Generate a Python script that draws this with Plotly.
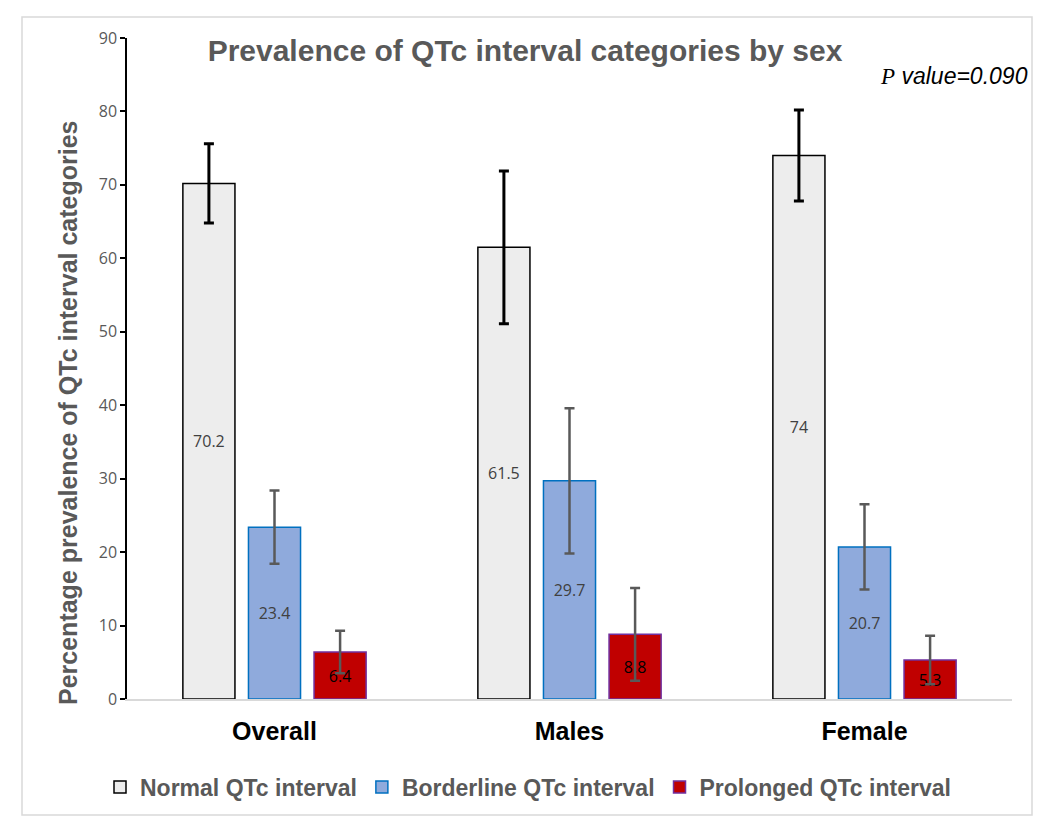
import plotly.graph_objects as go

categories = ["Overall", "Males", "Female"]
series_names = ["Normal QTc interval", "Borderline QTc interval", "Prolonged QTc interval"]
normal_vals = [70.2, 61.5, 74]
borderline_vals = [23.4, 29.7, 20.7]
prolonged_vals = [6.4, 8.8, 5.3]
normal_err = [5.4, 10.4, 6.2]
borderline_err = [5.0, 9.9, 5.8]
prolonged_err = [2.9, 6.3, 3.3]
y_ticks = [0, 10, 20, 30, 40, 50, 60, 70, 80, 90]

# pixel layout helpers
L, R, T, B = 127, 1012, 38, 699
W, H = R - L, B - T
def px(x):
    return (x - L) / W
def py(y):
    return (B - y) / H

fills = ["#EDEDED", "#8FAADC", "#C00000"]
lines = ["#000000", "#0070C0", "#7030A0"]
err_cols = ["#000000", "#595959", "#595959"]
err_thick = [3, 2.5, 2.5]
text_cols = ["#404040", "#404040", "#000000"]
vals = [normal_vals, borderline_vals, prolonged_vals]
errs = [normal_err, borderline_err, prolonged_err]

fig = go.Figure()
for i in range(3):
    fig.add_trace(go.Bar(
        name=series_names[i],
        x=categories,
        y=vals[i],
        text=[f"{v:g}" for v in vals[i]],
        textposition="inside",
        insidetextanchor="middle",
        textangle=0,
        constraintext="none",
        textfont=dict(family="Open Sans", size=16, color=text_cols[i]),
        marker=dict(color=fills[i], line=dict(color=lines[i], width=1.5)),
        error_y=dict(type="data", array=errs[i], visible=True,
                     color=err_cols[i], thickness=err_thick[i], width=5),
    ))

fig.update_layout(
    width=1050, height=835,
    margin=dict(l=L, r=1050 - R, t=T, b=835 - B, autoexpand=False),
    paper_bgcolor="white", plot_bgcolor="white",
    barmode="group", bargap=0.333, bargroupgap=0.206,
    title=dict(text="<b>Prevalence of QTc interval categories by sex</b>",
               x=525 / 1050, xanchor="center", xref="container", y=1 - 50 / 835, yanchor="middle",
               font=dict(family="Liberation Sans", size=30, color="#595959")),
    showlegend=True,
    legend=dict(orientation="h", x=px(528), xanchor="center", y=py(787), yanchor="middle",
                font=dict(family="Liberation Sans", size=23, color="#595959", weight="bold"),
                itemwidth=30, traceorder="normal", bgcolor="rgba(0,0,0,0)"),
    xaxis=dict(showline=True, linecolor="#D9D9D9", linewidth=1.5, ticks="",
               showgrid=False, zeroline=False, ticklabelstandoff=9,
               tickfont=dict(family="Liberation Sans", size=25, color="#000000", weight="bold")),
    yaxis=dict(range=[0, 90], tickvals=y_ticks, showline=True, linecolor="#000000",
               linewidth=1.5, ticks="outside", ticklen=5, tickcolor="#000000", tickwidth=1.5,
               showgrid=False, zeroline=False,
               tickfont=dict(family="Open Sans", size=16, color="#595959")),
)

fig.add_annotation(text="<b>Percentage prevalence of QTc interval categories</b>",
                   xref="paper", yref="paper", x=px(68), y=py(413), textangle=-90,
                   showarrow=False, xanchor="center", yanchor="middle",
                   font=dict(family="Liberation Sans", size=25, color="#595959"))
fig.add_annotation(text="<i><span style='font-family:Liberation Serif'>P</span> value=0.090</i>",
                   xref="paper", yref="paper", x=px(1030), y=py(76),
                   showarrow=False, xanchor="right", yanchor="middle",
                   font=dict(family="Liberation Sans", size=23, color="#000000"))
fig.add_shape(type="rect", xref="paper", yref="paper",
              x0=px(22), x1=px(1032), y0=py(815), y1=py(17),
              line=dict(color="#D9D9D9", width=1.5), fillcolor="rgba(0,0,0,0)", layer="below")

fig.write_html("out.html", config={"displayModeBar": False},
               post_script="document.body.style.margin='0px';")
